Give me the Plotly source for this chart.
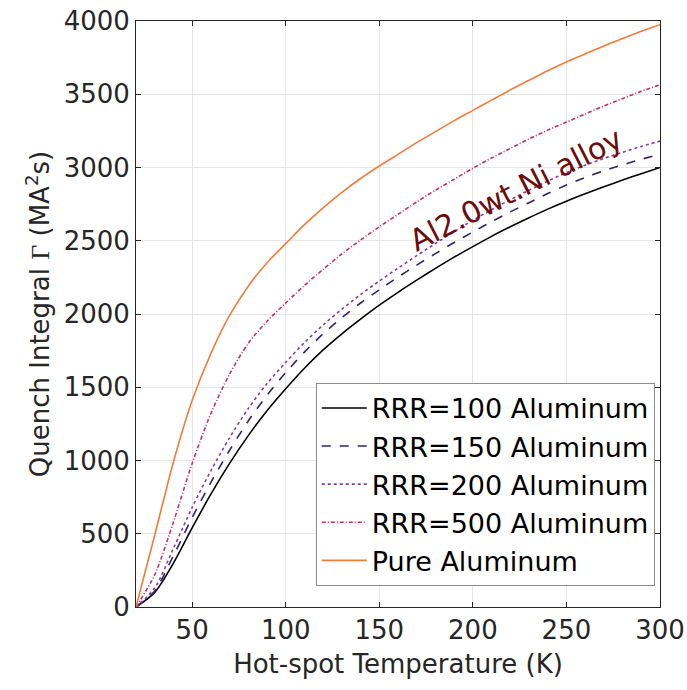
import plotly.graph_objects as go

# Hot-spot temperature (K)
temps = [20, 30, 40, 50, 60, 70, 80, 90, 100, 110, 120, 130, 140, 150, 160, 170, 180,
         190, 200, 210, 220, 230, 240, 250, 260, 270, 280, 290, 300]

# Quench integral (MA^2 s)
rrr100 = [0, 100, 300, 540, 770, 980, 1170, 1340, 1490, 1630, 1755, 1865, 1965, 2060, 2148, 2231, 2311,
          2388, 2460, 2530, 2595, 2657, 2716, 2770, 2820, 2868, 2914, 2958, 3000]
rrr150 = [0, 110, 350, 610, 850, 1070, 1270, 1445, 1600, 1740, 1865, 1975, 2075, 2165, 2252, 2334, 2412,
          2488, 2560, 2630, 2697, 2760, 2822, 2880, 2932, 2977, 3018, 3056, 3090]
rrr200 = [0, 130, 400, 680, 930, 1155, 1355, 1525, 1670, 1805, 1925, 2033, 2133, 2225, 2313, 2398, 2481,
          2562, 2640, 2712, 2780, 2845, 2907, 2965, 3016, 3062, 3104, 3144, 3180]
rrr500 = [0, 220, 580, 980, 1320, 1590, 1800, 1950, 2075, 2195, 2305, 2410, 2505, 2595, 2680, 2765, 2845,
          2920, 2995, 3065, 3130, 3195, 3255, 3310, 3365, 3420, 3470, 3520, 3565]
pure = [0, 490, 990, 1410, 1730, 1990, 2190, 2350, 2480, 2610, 2725, 2830, 2925, 3010, 3090, 3170, 3245,
        3320, 3390, 3460, 3530, 3595, 3660, 3720, 3775, 3830, 3880, 3930, 3975]

names = ["RRR=100 Aluminum", "RRR=150 Aluminum", "RRR=200 Aluminum", "RRR=500 Aluminum", "Pure Aluminum"]
colors = ["#000000", "#2e2470", "#8a3c9c", "#c23062", "#f07c3c"]
dashes = ["solid", "dash", "dot", "4px,2px,1px,2px", "solid"]
series = [rrr100, rrr150, rrr200, rrr500, pure]

x_ticks = [50, 100, 150, 200, 250, 300]
y_ticks = [0, 500, 1000, 1500, 2000, 2500, 3000, 3500, 4000]

annotation_text = "Al2.0wt.Ni alloy"

FONT = "DejaVu Sans"
AX = "#262626"

fig = go.Figure()
for name, vals, col, dsh in zip(names, series, colors, dashes):
    fig.add_trace(go.Scatter(
        x=temps, y=vals, mode="lines", name=name,
        line=dict(color=col, width=1.6, dash=dsh, shape="spline", smoothing=0.8),
    ))

fig.add_annotation(
    x=223, y=2850, xref="x", yref="y", text=annotation_text, showarrow=False,
    textangle=-27, font=dict(family=FONT, size=30, color="#6b0d0d"),
    xanchor="center", yanchor="middle",
)

axis_common = dict(
    showline=True, linecolor=AX, linewidth=1, mirror="ticks",
    ticks="inside", ticklen=5, tickcolor=AX, tickwidth=1,
    showgrid=True, gridcolor="#e6e6e6", gridwidth=1,
    zeroline=False, automargin=False,
    tickfont=dict(family=FONT, size=26, color=AX),
)

fig.update_layout(
    width=687, height=690, autosize=False,
    margin=dict(l=136, r=27, t=21, b=83),
    plot_bgcolor="white", paper_bgcolor="white",
    font=dict(family=FONT, size=26, color=AX),
    xaxis=dict(
        range=[20, 300], tickvals=x_ticks, ticktext=[str(v) for v in x_ticks],
        title=dict(text="Hot-spot Temperature (K)", font=dict(family=FONT, size=26, color=AX), standoff=10),
        **axis_common,
    ),
    yaxis=dict(
        range=[0, 4000], tickvals=y_ticks, ticktext=[str(v) for v in y_ticks],
        title=dict(text="Quench Integral <span style=\"font-family:'Liberation Serif'\">Γ</span> (MA<sup>2</sup>s)",
                   font=dict(family=FONT, size=26, color=AX), standoff=6),
        **axis_common,
    ),
    legend=dict(
        x=0.99, y=0.036, xanchor="right", yanchor="bottom",
        bgcolor="white", bordercolor="#8c8c8c", borderwidth=1,
        font=dict(family=FONT, size=27, color="#000000"),
        tracegroupgap=0, itemwidth=45,
    ),
    showlegend=True,
)

fig.write_html("out.html")
